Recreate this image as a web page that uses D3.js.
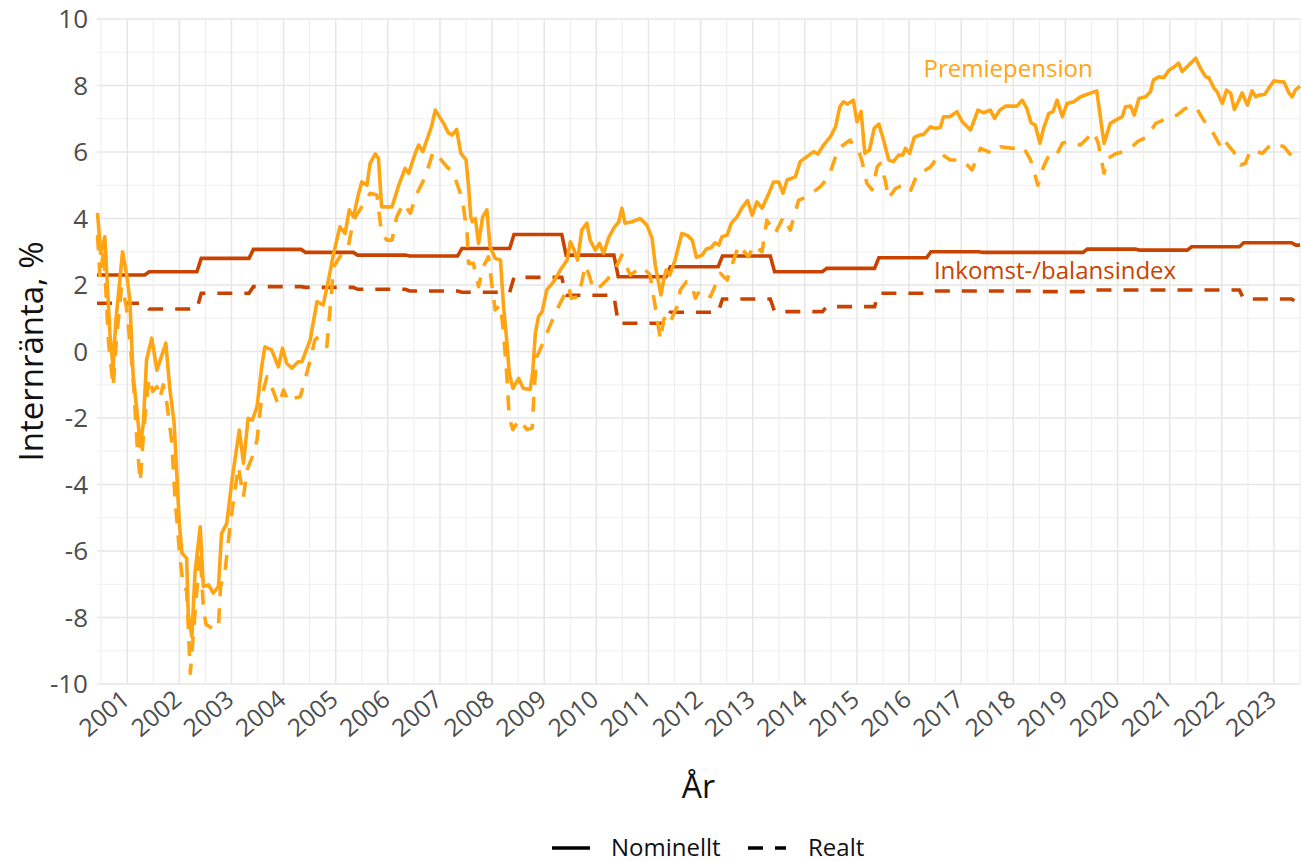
<!DOCTYPE html>
<html><head><meta charset="utf-8">
<script src="https://cdn.jsdelivr.net/npm/d3@7"></script>
<style>
body{margin:0;background:#fff}
svg{display:block}
text{font-family:"Open Sans",sans-serif}
</style>
</head><body>
<svg id="chart" width="1302" height="862"></svg>
<script>
// ---------- data ----------
const yearTicks = [2001,2002,2003,2004,2005,2006,2007,2008,2009,2010,2011,2012,2013,2014,2015,2016,2017,2018,2019,2020,2021,2022,2023];
const yTicks = [-10,-8,-6,-4,-2,0,2,4,6,8,10];

// Inkomst-/balansindex: yearly rates, each valid from the change date
const ibChange = [2000.42,2001.42,2002.42,2003.42,2004.42,2005.42,2006.42,2007.42,2008.42,2009.42,2010.42,2011.42,2012.42,2013.42,2014.42,2015.42,2016.42,2017.42,2018.42,2019.42,2020.42,2021.42,2022.42,2023.42];
const ibNominal = [2.30,2.40,2.80,3.07,2.98,2.90,2.87,3.10,3.52,2.90,2.25,2.55,2.87,2.40,2.50,2.82,3.00,2.98,2.98,3.08,3.05,3.15,3.27,3.20];
const ibReal    = [1.45,1.28,1.75,1.95,1.93,1.87,1.82,1.78,2.23,1.69,0.85,1.18,1.58,1.20,1.35,1.75,1.82,1.82,1.80,1.85,1.85,1.85,1.58,1.50];
const ibEnd = 2023.5;

// Premiepension, nominal
const ppNomYear = [2000.43,2000.49,2000.57,2000.67,2000.73,2000.78,2000.91,2001.00,2001.05,2001.11,2001.21,2001.25,2001.31,2001.37,2001.47,2001.57,2001.74,2001.82,2001.90,2001.95,2002.00,2002.05,2002.14,2002.17,2002.24,2002.30,2002.40,2002.46,2002.56,2002.65,2002.75,2002.81,2002.91,2003.01,2003.15,2003.23,2003.32,2003.40,2003.49,2003.58,2003.64,2003.77,2003.90,2003.98,2004.06,2004.16,2004.28,2004.35,2004.51,2004.64,2004.76,2004.86,2004.96,2005.08,2005.18,2005.26,2005.34,2005.44,2005.50,2005.60,2005.66,2005.76,2005.82,2005.88,2006.08,2006.20,2006.33,2006.40,2006.52,2006.59,2006.67,2006.78,2006.84,2006.91,2007.07,2007.16,2007.23,2007.32,2007.40,2007.50,2007.55,2007.59,2007.62,2007.68,2007.74,2007.82,2007.90,2007.96,2008.06,2008.16,2008.22,2008.28,2008.33,2008.40,2008.51,2008.60,2008.73,2008.78,2008.83,2008.89,2008.96,2009.05,2009.18,2009.31,2009.44,2009.50,2009.56,2009.64,2009.72,2009.82,2009.88,2009.98,2010.06,2010.14,2010.23,2010.33,2010.43,2010.49,2010.55,2010.68,2010.84,2010.97,2011.07,2011.13,2011.24,2011.29,2011.34,2011.41,2011.51,2011.64,2011.74,2011.84,2011.92,2012.03,2012.11,2012.20,2012.28,2012.35,2012.41,2012.51,2012.59,2012.70,2012.79,2012.90,2012.99,2013.08,2013.18,2013.31,2013.40,2013.50,2013.58,2013.66,2013.75,2013.82,2013.91,2014.04,2014.17,2014.25,2014.36,2014.49,2014.59,2014.67,2014.74,2014.82,2014.93,2015.00,2015.08,2015.15,2015.24,2015.33,2015.42,2015.51,2015.61,2015.70,2015.80,2015.88,2015.93,2016.01,2016.10,2016.20,2016.28,2016.41,2016.50,2016.60,2016.66,2016.78,2016.92,2017.02,2017.18,2017.32,2017.43,2017.56,2017.64,2017.74,2017.85,2018.07,2018.17,2018.26,2018.34,2018.42,2018.51,2018.58,2018.68,2018.76,2018.84,2018.94,2019.03,2019.16,2019.29,2019.48,2019.60,2019.74,2019.86,2019.99,2020.09,2020.15,2020.25,2020.32,2020.41,2020.54,2020.63,2020.69,2020.79,2020.89,2020.98,2021.11,2021.17,2021.24,2021.37,2021.50,2021.59,2021.69,2021.75,2021.85,2021.91,2022.01,2022.09,2022.17,2022.24,2022.33,2022.39,2022.49,2022.58,2022.65,2022.71,2022.82,2022.90,2023.00,2023.11,2023.19,2023.29,2023.35,2023.41,2023.50];
const ppNomValue = [4.17,2.95,3.45,0.5,-0.5,0.9,3.0,2.2,1.55,-0.65,-2.15,-2.86,-2.15,-0.26,0.4,-0.56,0.25,-1.16,-2.16,-3.66,-5.17,-6.07,-6.22,-7.87,-8.58,-6.67,-5.27,-7.07,-7.02,-7.27,-7.07,-5.47,-5.17,-3.86,-2.36,-3.36,-2.01,-2.06,-1.66,-0.46,0.14,0.05,-0.46,0.1,-0.36,-0.5,-0.31,-0.31,0.35,1.5,1.4,2.15,2.95,3.75,3.55,4.26,4.05,4.76,5.1,5.0,5.66,5.94,5.81,4.35,4.35,4.96,5.51,5.36,5.94,6.21,6.01,6.51,6.78,7.26,6.86,6.58,6.51,6.68,5.96,5.76,4.96,4.05,3.9,4.0,3.25,4.05,4.26,3.15,2.8,2.75,1.35,0.35,-0.66,-1.11,-0.81,-1.11,-1.14,-0.61,0.55,1.05,1.2,1.85,2.1,2.45,2.75,3.3,3.1,2.75,3.65,3.86,3.35,3.05,3.25,2.95,3.4,3.7,3.9,4.31,3.86,3.9,4.0,3.8,3.4,2.6,1.7,2.15,2.45,2.3,2.75,3.55,3.5,3.35,2.83,2.9,3.08,3.12,3.27,3.2,3.45,3.5,3.86,4.05,4.31,4.54,4.1,4.5,4.31,4.76,5.1,5.1,4.76,5.16,5.21,5.26,5.71,5.86,6.01,5.94,6.21,6.46,6.76,7.36,7.51,7.44,7.56,6.91,7.22,5.96,6.06,6.71,6.84,6.36,5.76,5.71,5.91,5.91,6.11,5.96,6.44,6.51,6.53,6.76,6.71,6.74,7.06,7.06,7.21,6.91,6.66,7.26,7.18,7.26,7.01,7.26,7.38,7.38,7.56,7.31,6.88,6.81,6.26,6.71,7.16,7.21,7.56,7.06,7.46,7.51,7.66,7.77,7.84,6.26,6.86,6.98,7.06,7.36,7.38,7.11,7.61,7.66,7.81,8.17,8.26,8.24,8.45,8.59,8.67,8.42,8.62,8.82,8.52,8.26,8.24,7.92,7.81,7.46,7.86,7.77,7.28,7.56,7.78,7.41,7.84,7.66,7.71,7.73,7.92,8.14,8.11,8.11,7.77,7.66,7.86,7.98];

// Premiepension, real
const ppRealYear = [2000.43,2000.48,2000.55,2000.64,2000.73,2000.79,2000.89,2000.98,2001.07,2001.13,2001.19,2001.25,2001.31,2001.38,2001.42,2001.49,2001.57,2001.63,2001.69,2001.76,2001.85,2001.92,2002.01,2002.08,2002.14,2002.21,2002.27,2002.33,2002.40,2002.46,2002.51,2002.68,2002.75,2002.79,2002.88,2002.97,2003.04,2003.13,2003.23,2003.30,2003.40,2003.49,2003.58,2003.68,2003.77,2003.90,2004.00,2004.09,2004.19,2004.32,2004.41,2004.51,2004.60,2004.67,2004.83,2004.96,2005.12,2005.24,2005.34,2005.50,2005.66,2005.79,2005.88,2005.98,2006.08,2006.17,2006.30,2006.43,2006.56,2006.72,2006.87,2007.00,2007.13,2007.26,2007.39,2007.45,2007.52,2007.55,2007.64,2007.74,2007.83,2007.93,2008.00,2008.06,2008.16,2008.22,2008.28,2008.33,2008.40,2008.52,2008.67,2008.77,2008.81,2008.86,2008.92,2009.05,2009.21,2009.37,2009.47,2009.52,2009.66,2009.79,2009.85,2009.95,2010.07,2010.20,2010.33,2010.43,2010.49,2010.55,2010.65,2010.88,2011.03,2011.13,2011.23,2011.29,2011.35,2011.42,2011.55,2011.61,2011.73,2011.84,2011.90,2011.99,2012.19,2012.38,2012.51,2012.73,2012.92,2013.02,2013.18,2013.27,2013.43,2013.59,2013.72,2013.88,2014.04,2014.30,2014.46,2014.59,2014.65,2014.87,2014.94,2015.03,2015.10,2015.19,2015.29,2015.39,2015.45,2015.55,2015.60,2015.74,2015.87,2016.02,2016.16,2016.31,2016.41,2016.60,2016.79,2017.02,2017.21,2017.37,2017.59,2017.75,2018.00,2018.19,2018.33,2018.39,2018.47,2018.58,2018.71,2018.84,2018.94,2019.06,2019.29,2019.54,2019.63,2019.74,2019.81,2019.96,2020.11,2020.28,2020.38,2020.57,2020.73,2020.95,2021.14,2021.30,2021.50,2021.65,2021.82,2021.98,2022.04,2022.17,2022.23,2022.36,2022.45,2022.55,2022.78,2022.90,2023.00,2023.19,2023.35,2023.50];
const ppRealValue = [3.5,2.2,3.1,0.3,-1.06,0.3,1.95,1.4,0.0,-1.2,-2.8,-3.92,-2.5,-1.3,-0.8,-1.2,-1.06,-1.4,-1.0,-1.56,-2.66,-4.47,-6.17,-7.12,-7.17,-9.68,-8.48,-7.27,-6.07,-7.68,-8.2,-8.38,-8.28,-7.07,-6.57,-5.27,-4.47,-3.46,-4.37,-3.56,-3.16,-2.66,-1.36,-0.76,-1.06,-1.61,-1.16,-1.51,-1.41,-1.36,-0.86,-0.26,0.35,0.45,0.15,2.55,2.95,3.15,3.95,4.35,4.76,4.71,3.55,3.35,3.35,4.05,4.46,4.16,4.76,5.26,6.01,5.81,5.56,5.36,4.76,4.35,3.55,2.65,2.65,1.95,2.55,2.85,1.95,1.25,1.4,0.55,-0.66,-2.0,-2.35,-2.05,-2.35,-2.3,-1.06,-0.16,0.05,0.55,1.15,1.65,1.95,1.6,1.65,2.6,2.35,1.85,1.95,2.15,2.4,2.7,2.9,2.65,2.3,2.55,2.3,1.35,0.35,0.95,1.1,0.9,1.35,1.85,2.1,1.95,1.6,1.85,1.65,2.35,2.15,3.2,2.85,3.2,3.0,3.95,3.55,4.05,3.65,4.55,4.65,4.96,5.26,5.86,6.11,6.36,6.16,6.06,5.7,5.06,4.86,5.56,5.66,5.1,4.6,4.9,5.0,4.8,5.35,5.45,5.55,5.96,5.76,5.76,5.46,6.11,5.96,6.16,6.11,6.16,5.76,5.46,5.0,5.56,6.0,5.95,6.26,6.31,6.21,6.61,6.26,5.36,5.8,5.95,6.01,6.16,6.31,6.46,6.86,7.01,7.11,7.31,7.36,6.96,6.61,6.16,6.36,6.11,6.0,5.61,5.66,6.06,5.96,6.16,6.26,6.16,5.86,5.85];

const seriesLabels = ["Premiepension","Inkomst-/balansindex"];
const labelYear = [2017.9, 2018.8];
const labelValue = [8.5, 2.42];
const legendLabels = ["Nominellt","Realt"];

// ---------- drawing ----------
(function () {
const YELLOW = "#ffa514", RED = "#c94300";
const DASH = "15 12";
const LW = 3.6;
const svg = d3.select("#chart");
const pLeft = 97, pRight = 1300, pTop = 19, pBottom = 684;

const x = d3.scaleLinear().domain([2000.42, 2023.5]).range([pLeft, pRight]);
const y = d3.scaleLinear().domain([-10, 10]).range([pBottom, pTop]);

// grid
const g = svg.append("g");
d3.range(-10, 10.5, 1).forEach(v => {
  const major = v % 2 === 0;
  g.append("line").attr("x1", pLeft).attr("x2", pRight).attr("y1", y(v)).attr("y2", y(v))
    .attr("stroke", major ? "#e6e6e6" : "#efefef").attr("stroke-width", major ? 1.5 : 1.2);
});
d3.range(2000.5, 2023.51, 0.5).forEach(v => {
  const major = Number.isInteger(v);
  g.append("line").attr("x1", x(v)).attr("x2", x(v)).attr("y1", pTop).attr("y2", pBottom)
    .attr("stroke", major ? "#e6e6e6" : "#efefef").attr("stroke-width", major ? 1.5 : 1.2);
});

// y tick labels
svg.append("g").selectAll("text").data(yTicks).join("text")
  .attr("x", 88).attr("y", d => y(d)).attr("dy", "0.36em")
  .attr("text-anchor", "end").attr("font-size", 26).attr("fill", "#4d4d4d")
  .text(d => String(d));

// x tick labels
svg.append("g").selectAll("text").data(yearTicks).join("text")
  .attr("transform", d => `translate(${x(d) + 4},${702}) rotate(-40)`)
  .attr("text-anchor", "end").attr("font-size", 24.5).attr("fill", "#4d4d4d")
  .text(d => String(d));

// axis titles
svg.append("text").attr("transform", `translate(43,${(pTop + pBottom) / 2}) rotate(-90)`)
  .attr("text-anchor", "middle").attr("font-size", 33).attr("fill", "#111").text("Internränta, %");
svg.append("text").attr("x", (pLeft + pRight) / 2).attr("y", 798)
  .attr("text-anchor", "middle").attr("font-size", 32).attr("fill", "#111").text("År");

// step series for Inkomst-/balansindex
function stepPoints(vals) {
  const pts = [];
  vals.forEach((v, i) => {
    const s = ibChange[i];
    const e = i + 1 < ibChange.length ? ibChange[i + 1] - 1 / 12 : ibEnd;
    pts.push([s, v], [e, v]);
  });
  return pts;
}
const line = d3.line().x(d => x(d[0])).y(d => y(d[1]));

const plot = svg.append("g");
plot.append("path").attr("d", line(stepPoints(ibReal))).attr("fill", "none")
  .attr("stroke", RED).attr("stroke-width", LW).attr("stroke-dasharray", DASH);
plot.append("path").attr("d", line(stepPoints(ibNominal))).attr("fill", "none")
  .attr("stroke", RED).attr("stroke-width", LW);

const ppReal = ppRealYear.map((t, i) => [t, ppRealValue[i]]);
const ppNom = ppNomYear.map((t, i) => [t, ppNomValue[i]]);
plot.append("path").attr("d", line(ppReal)).attr("fill", "none")
  .attr("stroke", YELLOW).attr("stroke-width", LW).attr("stroke-dasharray", DASH)
  .attr("stroke-linejoin", "round");
plot.append("path").attr("d", line(ppNom)).attr("fill", "none")
  .attr("stroke", YELLOW).attr("stroke-width", LW).attr("stroke-linejoin", "round");

// series labels
[YELLOW, RED].forEach((c, i) => {
  svg.append("text").attr("x", x(labelYear[i])).attr("y", y(labelValue[i])).attr("dy", "0.35em")
    .attr("text-anchor", "middle").attr("font-size", 24).attr("fill", c).text(seriesLabels[i]);
});

// legend
const lg = svg.append("g");
lg.append("line").attr("x1", 552).attr("x2", 590).attr("y1", 848).attr("y2", 848)
  .attr("stroke", "#000").attr("stroke-width", LW);
lg.append("text").attr("x", 611).attr("y", 856).attr("font-size", 24).attr("fill", "#111").text(legendLabels[0]);
lg.append("line").attr("x1", 748).attr("x2", 786).attr("y1", 848).attr("y2", 848)
  .attr("stroke", "#000").attr("stroke-width", LW).attr("stroke-dasharray", DASH);
lg.append("text").attr("x", 808).attr("y", 856).attr("font-size", 24).attr("fill", "#111").text(legendLabels[1]);
})();
</script>
</body></html>
